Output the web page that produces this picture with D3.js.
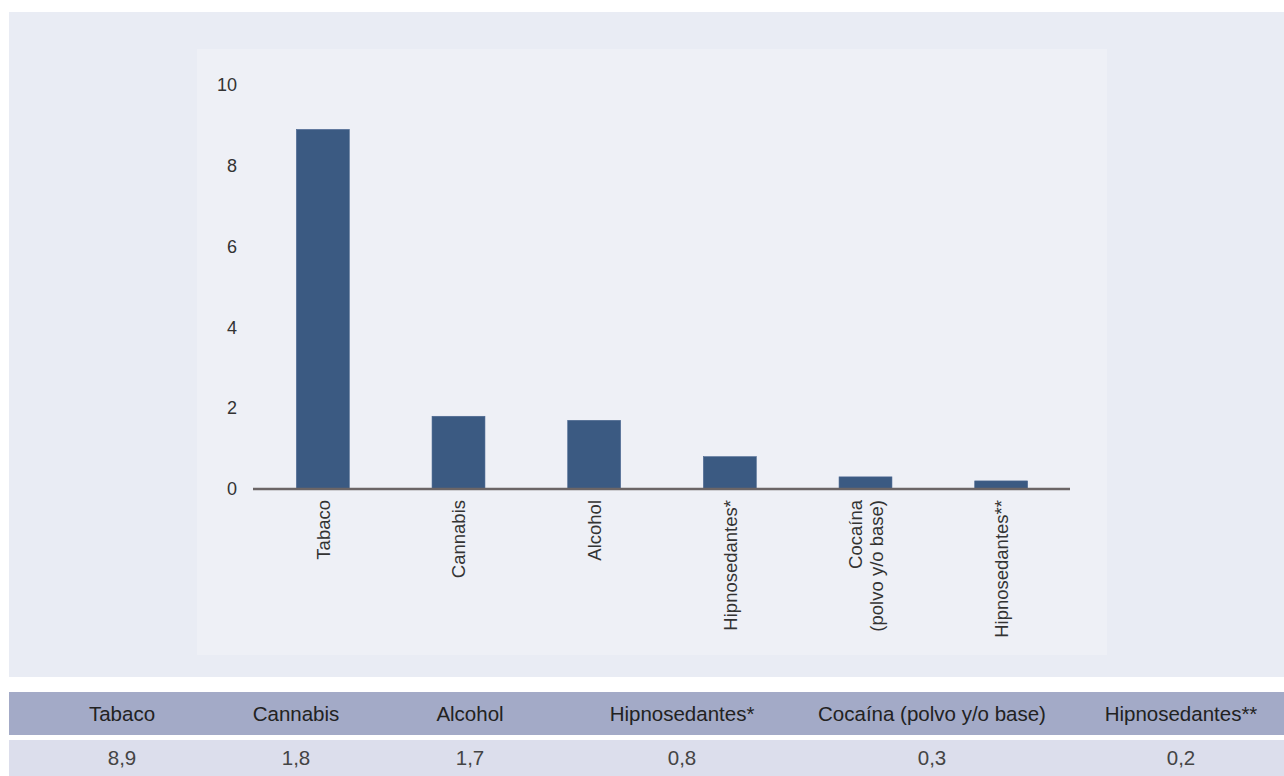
<!DOCTYPE html>
<html>
<head>
<meta charset="utf-8">
<script src="https://cdn.jsdelivr.net/npm/d3@7"></script>
<style>
  html, body { margin: 0; padding: 0; background: #ffffff; }
  svg { display: block; font-family: "Liberation Sans", Arial, Helvetica, sans-serif; }
</style>
</head>
<body>
<svg id="chart" width="1284" height="776"></svg>
<script>
// datos
const categories = ["Tabaco", "Cannabis", "Alcohol", "Hipnosedantes*", "Cocaína (polvo y/o base)", "Hipnosedantes**"];
const axisLabels = [["Tabaco"], ["Cannabis"], ["Alcohol"], ["Hipnosedantes*"], ["Cocaína", "(polvo y/o base)"], ["Hipnosedantes**"]];
const values = [8.9, 1.8, 1.7, 0.8, 0.3, 0.2];
const yTicks = [0, 2, 4, 6, 8, 10];

// layout
const W = 1284, H = 776;
const plot = { left: 253, right: 1070, top: 85, bottom: 489 };
const bandRange = [255, 1069];
const tableCols = [122, 296, 470, 682, 932, 1181]; // centros de columna de la tabla

const svg = d3.select("#chart");

// fondos
svg.append("rect").attr("x", 9).attr("y", 12).attr("width", W - 9).attr("height", 665).attr("fill", "#e9ecf4");
svg.append("rect").attr("x", 197).attr("y", 49).attr("width", 910).attr("height", 606).attr("fill", "#eef0f6");

const x = d3.scaleBand()
  .domain(categories)
  .range(bandRange)
  .paddingInner(0.61)
  .paddingOuter(0.305);

const y = d3.scaleLinear()
  .domain([0, 10])
  .range([plot.bottom, plot.top]);

// eje Y
const yAxis = svg.append("g")
  .attr("transform", `translate(${plot.left},0)`)
  .call(d3.axisLeft(y).tickValues(yTicks).tickSize(0).tickPadding(16).tickFormat(d3.format("d")));
yAxis.select(".domain").remove();
yAxis.selectAll("text")
  .attr("fill", "#333")
  .style("font-size", "18px")
  .style("font-family", "\"Liberation Sans\", Arial, sans-serif");

// barras
svg.append("g").selectAll("rect")
  .data(values)
  .join("rect")
  .attr("x", (d, i) => x(categories[i]))
  .attr("y", d => y(d))
  .attr("width", x.bandwidth())
  .attr("height", d => y(0) - y(d))
  .attr("fill", "#3b5a82")
  .attr("stroke", "#4a6690")
  .attr("stroke-width", 0.6);

// linea base
svg.append("line")
  .attr("x1", plot.left).attr("x2", plot.right)
  .attr("y1", y(0)).attr("y2", y(0))
  .attr("stroke", "#6b6566")
  .attr("stroke-width", 2.5);

// etiquetas rotadas
const lblG = svg.append("g");
axisLabels.forEach((lines, i) => {
  const cx = x(categories[i]) + x.bandwidth() / 2;
  const lineH = 21;
  lines.forEach((t, j) => {
    const off = (j - (lines.length - 1) / 2) * lineH;
    lblG.append("text")
      .attr("transform", `translate(${cx + off},${y(0) + 11}) rotate(-90)`)
      .attr("text-anchor", "end")
      .attr("dy", "0.36em")
      .attr("fill", "#333")
      .style("font-size", "18.5px")
      .text(t);
  });
});

// tabla
const tbl = svg.append("g");
tbl.append("rect").attr("x", 9).attr("y", 692).attr("width", W - 9).attr("height", 43).attr("fill", "#a3aac7");
tbl.append("rect").attr("x", 9).attr("y", 740).attr("width", W - 9).attr("height", 36).attr("fill", "#dcdeec");

tbl.selectAll("text.hdr")
  .data(categories)
  .join("text")
  .attr("class", "hdr")
  .attr("x", (d, i) => tableCols[i])
  .attr("y", 713.5)
  .attr("dy", "0.35em")
  .attr("text-anchor", "middle")
  .attr("fill", "#222")
  .style("font-size", "20.5px")
  .text(d => d);

tbl.selectAll("text.val")
  .data(values)
  .join("text")
  .attr("class", "val")
  .attr("x", (d, i) => tableCols[i])
  .attr("y", 758)
  .attr("dy", "0.35em")
  .attr("text-anchor", "middle")
  .attr("fill", "#444")
  .style("font-size", "20.5px")
  .text(d => d3.format(".1f")(d).replace(".", ","));
</script>
</body>
</html>
